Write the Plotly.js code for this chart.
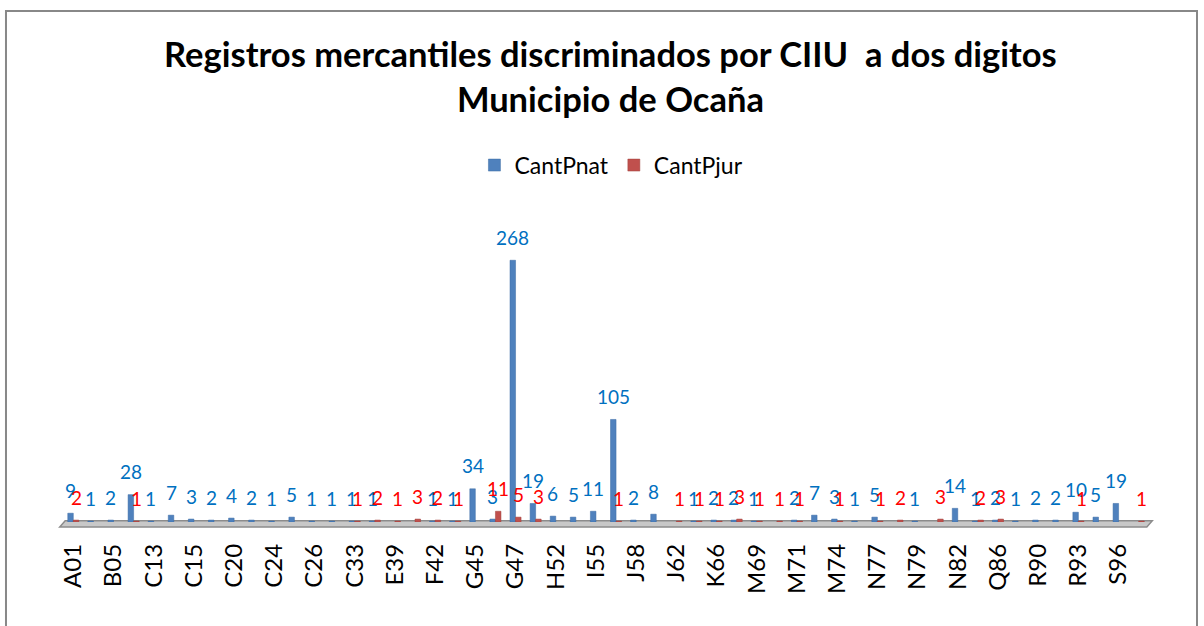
<!DOCTYPE html>
<html>
<head>
<meta charset="utf-8">
<script src="https://cdn.plot.ly/plotly-3.0.1.min.js"></script>
<style>html,body{margin:0;padding:0;background:#fff;}#chart{width:1204px;height:626px;}</style>
</head>
<body>
<div id="chart"></div>
<script>
const categories = ["A01","A03","B05","C10","C13","C14","C15","C18","C20","C22","C24","C25","C26","C31","C33","D35","E39","F41","F42","F43","G45","G46","G47","H49","H52","H53","I55","I56","J58","J61","J62","K64","K66","L68","M69","M70","M71","M73","M74","M75","N77","N78","N79","N81","N82","P85","Q86","Q88","R90","R92","R93","S95","S96","U99"];
const cantPnat = [9,1,2,28,1,7,3,2,4,2,1,5,1,1,1,1,null,null,1,1,34,3,268,19,6,5,11,105,2,8,null,1,2,2,1,null,2,7,3,1,5,null,1,null,14,1,2,1,2,2,10,5,19,null];
const cantPjur = [2,null,null,1,null,null,null,null,null,null,null,null,null,null,1,2,1,3,2,1,null,11,5,3,null,null,null,1,null,null,1,1,1,3,1,1,1,null,1,null,1,2,null,3,null,2,3,null,null,null,1,null,null,1];
const seriesNames = ["CantPnat","CantPjur"];
const tickLabels = categories.filter((c, i) => i % 2 === 0);

const FONT = "Lato, 'Noto Sans', sans-serif";
const blueBar = "#4F81BD", redBar = "#C0504D";
const blueLbl = "#0070C0", redLbl = "#FF0000";

const traces = [
  {type:"bar", name:seriesNames[0], x:categories, y:cantPnat, marker:{color:blueBar, line:{color:"#3A6BA5", width:0.5}}, hoverinfo:"x+y"},
  {type:"bar", name:seriesNames[1], x:categories, y:cantPjur, marker:{color:redBar, line:{color:"#A0403D", width:0.5}}, hoverinfo:"x+y"}
];

const annotations = [];
function addLabels(vals, color, shift) {
  vals.forEach((v, i) => {
    if (v === null) return;
    annotations.push({x:categories[i], y:v, xref:"x", yref:"y", text:String(v), showarrow:false,
      xshift:shift, yshift:23, yanchor:"middle", xanchor:"center",
      font:{family:FONT, size:19, color:color}});
  });
}
addLabels(cantPnat, blueLbl, -2.8);
addLabels(cantPjur, redLbl, 2.8);

const layout = {
  width:1204, height:626,
  paper_bgcolor:"#ffffff", plot_bgcolor:"rgba(0,0,0,0)",
  margin:{l:63, r:55, t:229, b:104},
  barmode:"group", bargap:0.45, bargroupgap:0,
  font:{family:FONT, color:"#000"},
  title:{text:"<b>Registros mercantiles discriminados por CIIU  a dos digitos<br>Municipio de Ocaña</b>",
    x:0.507, xref:"container", xanchor:"center", y:0.893, yref:"container", yanchor:"middle",
    font:{family:FONT, size:34.5, color:"#000"}},
  showlegend:true,
  legend:{orientation:"h", x:0.505, xanchor:"center", y:1.218, yanchor:"middle",
    font:{family:FONT, size:23, color:"#000"}, bgcolor:"rgba(0,0,0,0)"},
  xaxis:{type:"category", categoryorder:"array", categoryarray:categories,
    tickmode:"array", tickvals:tickLabels, ticktext:tickLabels, tickangle:-90,
    ticks:"", showgrid:false, zeroline:false, showline:false,
    ticklabelstandoff:16, tickfont:{family:FONT, size:24, color:"#000"}},
  yaxis:{range:[0,300], showgrid:false, zeroline:false, showline:false, showticklabels:false, ticks:""},
  annotations:annotations,
  shapes:[
    {type:"path", xref:"paper", yref:"paper", layer:"below",
     path:"M -0.003,-0.017 L 0.002,0.004 L 1.003,0.004 L 0.998,-0.017 Z",
     fillcolor:"#C8C8C8", line:{color:"#8C8C8C", width:1.5}},
    {type:"rect", xref:"paper", yref:"paper", layer:"below",
     x0:-0.0525, x1:1.0442, y0:-0.45, y1:1.744,
     fillcolor:"rgba(0,0,0,0)", line:{color:"#888888", width:2}}
  ]
};

Plotly.newPlot("chart", traces, layout, {displayModeBar:false, staticPlot:true});
</script>
</body>
</html>
